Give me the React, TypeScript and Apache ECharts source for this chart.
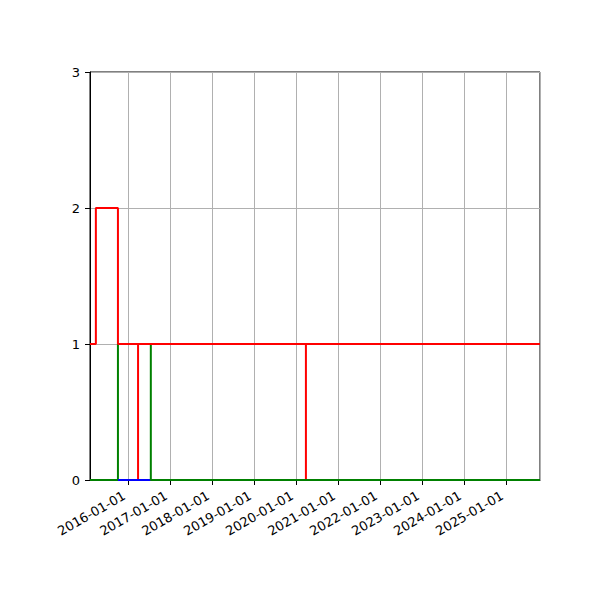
import * as echarts from "echarts";
import { useEffect, useRef } from "react";

// x range of the axes and tick settings
const axisStart = "2015-01-31";
const axisEnd = "2025-10-19";
const yTicks = [0, 1, 2, 3];
const dateLabelFormat = "{yyyy}-{MM}-{dd}";

// step lines (value holds from its date to the next one)
const redLowDates = [axisStart, "2016-03-24", axisEnd];
const redLowValues = [0, 1, 1];
const redLateDates = [axisStart, "2020-03-23", axisEnd];
const redLateValues = [0, 1, 1];
const greenEarlyDates = [axisStart, "2015-10-01", axisEnd];
const greenEarlyValues = [0, 1, 1];
const blueDates = ["2015-10-01", "2016-07-13"];
const blueValues = [0, 0];
const greenLateDates = ["2016-07-13", "2016-07-13", axisEnd];
const greenLateValues = [1, 0, 0];
const redTopDates = [axisStart, "2015-03-23", "2015-10-01", axisEnd];
const redTopValues = [1, 2, 1, 1];

const FONT = "DejaVu Sans";

function stepSeries(name: string, dates: string[], values: number[], color: string) {
  return {
    name,
    type: "line",
    step: "end",
    data: dates.map((d, i) => [d, values[i]]),
    showSymbol: false,
    lineStyle: { width: 2, color },
    itemStyle: { color }
  };
}

export default function App() {
  const ref = useRef<HTMLDivElement | null>(null);

  useEffect(() => {
    if (!ref.current) {
      return;
    }
    document.body.style.margin = "0";

    const chart = echarts.init(ref.current, undefined, { renderer: "svg" });
    chart.setOption({
      animation: false,
      backgroundColor: "#ffffff",
      grid: {
        left: 90,
        right: 60,
        top: 72,
        bottom: 120,
        show: true,
        borderColor: "#000000",
        borderWidth: 1,
        backgroundColor: "transparent"
      },
      xAxis: {
        type: "time",
        min: axisStart,
        max: axisEnd,
        minInterval: 365 * 24 * 3600 * 1000,
        maxInterval: 366 * 24 * 3600 * 1000,
        axisLine: { show: true, lineStyle: { color: "#000000", width: 1 } },
        axisTick: { show: true, length: 5, lineStyle: { color: "#000000" } },
        axisLabel: {
          formatter: dateLabelFormat,
          rotate: 30,
          margin: 12,
          padding: [0, 5, 0, 0],
          fontSize: 13,
          color: "#000000",
          fontFamily: FONT,
          hideOverlap: false
        },
        splitLine: { show: true, lineStyle: { color: "#b0b0b0", width: 1 } }
      },
      yAxis: {
        type: "value",
        min: yTicks[0],
        max: yTicks[yTicks.length - 1],
        interval: 1,
        axisLine: { show: true, lineStyle: { color: "#000000", width: 1 } },
        axisTick: { show: true, length: 5, lineStyle: { color: "#000000" } },
        axisLabel: { margin: 10, fontSize: 13, color: "#000000", fontFamily: FONT },
        splitLine: { show: true, lineStyle: { color: "#b0b0b0", width: 1 } }
      },
      series: [
        stepSeries("redLow", redLowDates, redLowValues, "#ff0000"),
        stepSeries("redLate", redLateDates, redLateValues, "#ff0000"),
        stepSeries("greenEarly", greenEarlyDates, greenEarlyValues, "#008000"),
        stepSeries("blue", blueDates, blueValues, "#0000ff"),
        stepSeries("greenLate", greenLateDates, greenLateValues, "#008000"),
        stepSeries("redTop", redTopDates, redTopValues, "#ff0000")
      ]
    });

    return () => {
      chart.dispose();
    };
  }, []);

  return <div ref={ref} style={{ width: 600, height: 600 }} />;
}
